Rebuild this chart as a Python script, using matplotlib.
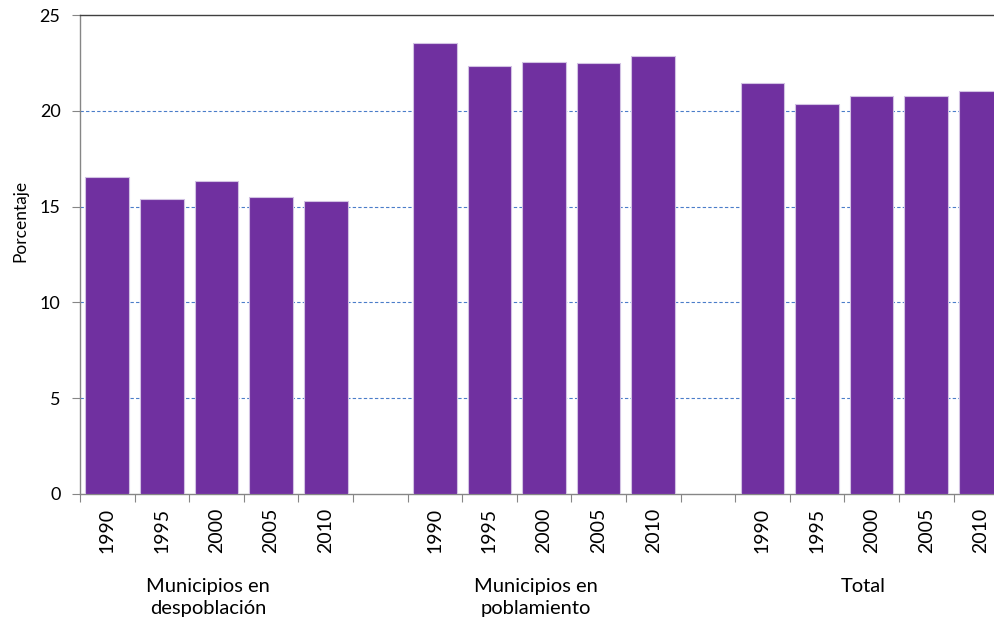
import numpy as np
import matplotlib.pyplot as plt

years = ["1990", "1995", "2000", "2005", "2010"]
groups = ["Municipios en\ndespoblación", "Municipios en\npoblamiento", "Total"]
despoblacion = [16.56, 15.38, 16.32, 15.50, 15.31]
poblamiento = [23.52, 22.34, 22.53, 22.48, 22.84]
total = [21.47, 20.34, 20.77, 20.77, 21.03]

plt.rcParams['font.family'] = ['Lato', 'DejaVu Sans']

fig = plt.figure(figsize=(9.95, 6.24), dpi=100)
ax = fig.add_axes([80 / 995, 130 / 624, 915 / 995, 479 / 624])

bar_color = "#7030A0"
series = [despoblacion, poblamiento, total]
positions = []
for g, vals in enumerate(series):
    x = np.arange(len(vals)) + g * (len(years) + 1)
    positions.append(x)
    ax.bar(x, vals, width=0.8, color=bar_color, edgecolor="#D2C2E3", linewidth=0.8, zorder=3)

ax.set_ylim(0, 25)
ax.set_yticks([0, 5, 10, 15, 20, 25])
ax.tick_params(axis="y", labelsize=13, length=6, color="#868686", pad=8)

# dashed grid lines
for v in [5, 10, 15, 20]:
    ax.axhline(v, color="#4A7DC9", linestyle=(0, (3, 2)), linewidth=0.8, zorder=1)

# ticks between slots, year labels centred under bars
ax.set_xticks(np.arange(-0.5, 17, 1))
ax.set_xticklabels([])
ax.tick_params(axis="x", which="major", length=6, color="#868686")
allpos = np.concatenate(positions)
ax.set_xticks(allpos, minor=True)
ax.set_xticklabels(years * 3, minor=True, rotation=90, fontsize=14)
ax.tick_params(axis="x", which="minor", length=0, pad=10)
ax.set_xlim(-0.5, 16.26)  # after set_xticks, which widens the limits

for g, x in enumerate(positions):
    ax.text(x.mean() - 0.15, -0.175, groups[g], transform=ax.get_xaxis_transform(),
            ha="center", va="top", fontsize=14.5, linespacing=1.35)

ax.set_ylabel("Porcentaje", fontsize=12.5)
ax.yaxis.set_label_coords(-0.056, 0.57)

for s in ["left", "bottom"]:
    ax.spines[s].set_color("#868686")
    ax.spines[s].set_linewidth(1.0)
ax.spines["top"].set_color("#404040")
ax.spines["top"].set_linewidth(1.0)
ax.spines["right"].set_visible(False)

fig.savefig("out.png", dpi=100)
